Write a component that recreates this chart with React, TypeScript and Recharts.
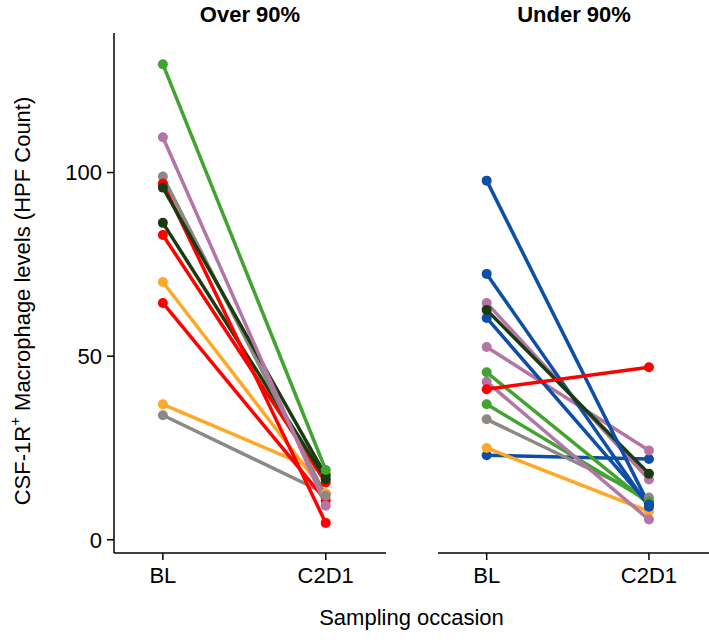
import { LineChart, Line, XAxis, YAxis, Label } from 'recharts';

// sampling occasions on the x axis
const occasions = ['BL', 'C2D1'];
const yTicks = [0, 50, 100];

const GREEN = '#41a330';
const PURPLE = '#b375a5';
const GRAY = '#8e8885';
const RED = '#ff0000';
const DKGREEN = '#1a3a10';
const ORANGE = '#ffa726';
const BLUE = '#0d4ea6';

// Over 90% panel
const overColors = [GRAY, ORANGE, RED, ORANGE, RED, DKGREEN, GRAY, RED, DKGREEN, PURPLE, GREEN];
const overBL = [33.9, 36.9, 64.5, 70.2, 83, 86.3, 98.9, 97, 95.9, 109.6, 129.5];
const overC2D1 = [12.6, 18, 10.7, 12.6, 15.6, 16.5, 12, 4.6, 17.5, 9.3, 19];

// Under 90% panel
const underColors = [BLUE, ORANGE, GRAY, GREEN, PURPLE, GREEN, PURPLE, PURPLE, BLUE, BLUE, DKGREEN, BLUE, RED];
const underBL = [23, 25, 32.8, 36.9, 43, 45.6, 52.5, 64.5, 60.4, 72.4, 62.6, 97.8, 41];
const underC2D1 = [22, 7.7, 11.5, 10.4, 5.5, 9.8, 24.3, 16.4, 9.6, 9, 18, 9.5, 47];

const Y_DOMAIN = [-3.6, 138];
const X_DOMAIN = [-0.3, 1.37];
const FONT = '"Liberation Sans", Arial, sans-serif';

function buildRows(bl: number[], c2: number[]) {
  return occasions.map((_, i) => {
    const row: Record<string, number> = { x: i };
    (i === 0 ? bl : c2).forEach((v, k) => {
      row['p' + k] = v;
    });
    return row;
  });
}

const tickStyle = { fill: '#000', fontSize: 22, fontFamily: FONT };

function YTitle(props: any) {
  const vb = props.viewBox || { x: 54, y: 33, width: 60, height: 520 };
  const cx = vb.x + vb.width - 84;
  const cy = vb.y + vb.height / 2 + 8;
  return (
    <text
      transform={`translate(${cx}, ${cy}) rotate(-90)`}
      textAnchor="middle"
      fontSize={22}
      fontFamily={FONT}
      fill="#000"
    >
      CSF-1R<tspan dy={-10} fontSize={15}>+</tspan>
      <tspan dy={10}> Macrophage levels (HPF Count)</tspan>
    </text>
  );
}

interface PanelProps {
  colors: string[];
  bl: number[];
  c2: number[];
  showY: boolean;
  width: number;
  margin: { top: number; right: number; bottom: number; left: number };
}

function Panel({ colors, bl, c2, showY, width, margin }: PanelProps) {
  const rows = buildRows(bl, c2);
  return (
    <LineChart width={width} height={640} data={rows} margin={margin}>
      <XAxis
        dataKey="x"
        type="number"
        domain={X_DOMAIN}
        allowDataOverflow
        ticks={[0, 1]}
        tickFormatter={(v: number) => occasions[v]}
        tick={tickStyle}
        tickSize={7}
        tickMargin={7}
        height={40}
        axisLine={{ stroke: '#000', strokeWidth: 1.5 }}
        tickLine={{ stroke: '#000', strokeWidth: 1.5 }}
      />
      {showY ? (
        <YAxis
          type="number"
          domain={Y_DOMAIN}
          allowDataOverflow
          ticks={yTicks}
          tick={tickStyle}
          tickSize={7}
          tickMargin={5}
          width={60}
          axisLine={{ stroke: '#000', strokeWidth: 1.5 }}
          tickLine={{ stroke: '#000', strokeWidth: 1.5 }}
        >
          <Label content={<YTitle />} />
        </YAxis>
      ) : (
        <YAxis type="number" domain={Y_DOMAIN} allowDataOverflow hide />
      )}
      {colors.map((c, k) => (
        <Line
          key={k}
          dataKey={'p' + k}
          stroke={c}
          strokeWidth={3.5}
          dot={{ r: 5, fill: c, stroke: c, strokeWidth: 0 }}
          activeDot={false}
          isAnimationActive={false}
        />
      ))}
    </LineChart>
  );
}

export default function App() {
  const titleStyle: React.CSSProperties = {
    position: 'absolute',
    top: 2,
    fontFamily: FONT,
    fontWeight: 'bold',
    fontSize: 22,
    textAlign: 'center',
    width: 272,
  };
  return (
    <div style={{ position: 'absolute', left: 0, top: 0, width: 709, height: 640, background: '#fff', fontFamily: FONT }}>
      <div style={{ position: 'absolute', left: 0, top: 0 }}>
        <Panel
          colors={overColors}
          bl={overBL}
          c2={overC2D1}
          showY
          width={400}
          margin={{ top: 33, right: 14, bottom: 47, left: 54 }}
        />
      </div>
      <div style={{ position: 'absolute', left: 400, top: 0 }}>
        <Panel
          colors={underColors}
          bl={underBL}
          c2={underC2D1}
          showY={false}
          width={309}
          margin={{ top: 33, right: 0, bottom: 47, left: 38 }}
        />
      </div>
      <div style={{ ...titleStyle, left: 114 }}>Over 90%</div>
      <div style={{ ...titleStyle, left: 438 }}>Under 90%</div>
      <div
        style={{
          position: 'absolute',
          top: 605,
          left: 114,
          width: 595,
          textAlign: 'center',
          fontSize: 22,
          fontFamily: FONT,
        }}
      >
        Sampling occasion
      </div>
    </div>
  );
}
